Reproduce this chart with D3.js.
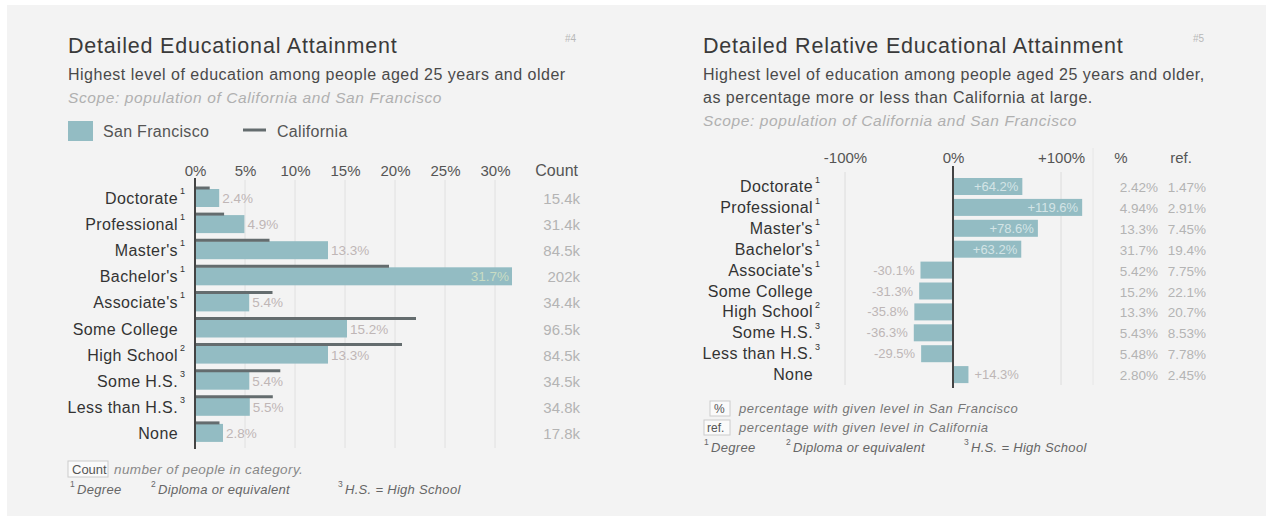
<!DOCTYPE html>
<html><head><meta charset="utf-8">
<script src="https://cdn.jsdelivr.net/npm/d3@7"></script>
<style>
html,body{margin:0;padding:0;background:#fff;}
svg text{font-family:"Liberation Sans",Arial,sans-serif;}
</style></head>
<body>
<svg id="c" width="1266" height="516"></svg>
<script>
const categories = ["Doctorate","Professional","Master's","Bachelor's","Associate's","Some College","High School","Some H.S.","Less than H.S.","None"];
const footMarks = ["1","1","1","1","1","","2","3","3",""];
const sfPct = [2.42,4.94,13.3,31.7,5.42,15.2,13.3,5.43,5.48,2.80];
const caPct = [1.47,2.91,7.45,19.4,7.75,22.1,20.7,8.53,7.78,2.45];
const sfLabels = ["2.4%","4.9%","13.3%","31.7%","5.4%","15.2%","13.3%","5.4%","5.5%","2.8%"];
const counts = ["15.4k","31.4k","84.5k","202k","34.4k","96.5k","84.5k","34.5k","34.8k","17.8k"];
const leftTicks = [0,5,10,15,20,25,30];
const relPct = [64.2,119.6,78.6,63.2,-30.1,-31.3,-35.8,-36.3,-29.5,14.3];
const relLabels = ["+64.2%","+119.6%","+78.6%","+63.2%","-30.1%","-31.3%","-35.8%","-36.3%","-29.5%","+14.3%"];
const pctCol = ["2.42%","4.94%","13.3%","31.7%","5.42%","15.2%","13.3%","5.43%","5.48%","2.80%"];
const refCol = ["1.47%","2.91%","7.45%","19.4%","7.75%","22.1%","20.7%","8.53%","7.78%","2.45%"];
const rightTicks = [-100,0,100];
const rightTickLabels = ["-100%","0%","+100%"];

const svg = d3.select("#c");
svg.append("rect").attr("x",7).attr("y",5).attr("width",1259).attr("height",511).attr("fill","#f3f3f3");

const BAR = "#93bcc3", CA = "#646c6e", DARK = "#333", LIGHT = "#b4b4b4";

function txt(g, x, y, s, size, opts={}) {
  const t = g.append("text").attr("x",x).attr("y",y).attr("font-size",size)
    .attr("fill",opts.fill||DARK).attr("text-anchor",opts.anchor||"start").text(s);
  if (opts.ls) t.attr("letter-spacing",opts.ls);
  if (opts.italic) t.attr("font-style","italic");
  return t;
}

// ---------- LEFT CHART ----------
const L = svg.append("g");
txt(L,68,53,"Detailed Educational Attainment",21.5,{fill:"#3a3a3a",ls:0.8});
txt(L,565,42,"#4",10,{fill:"#b8b8b8"});
txt(L,68,80,"Highest level of education among people aged 25 years and older",16,{fill:"#4a4a4a",ls:0.5});
txt(L,68,103,"Scope: population of California and San Francisco",15.5,{fill:"#b0b0b0",italic:true,ls:0.6});
L.append("rect").attr("x",68).attr("y",121).attr("width",25).attr("height",20).attr("fill",BAR);
txt(L,103,137,"San Francisco",16,{fill:"#555",ls:0.3});
L.append("line").attr("x1",243).attr("x2",266).attr("y1",130).attr("y2",130).attr("stroke",CA).attr("stroke-width",3);
txt(L,277,137,"California",16,{fill:"#555",ls:0.3});

const xL = d3.scaleLinear().domain([0,30]).range([195,495]);
const yL = d3.scaleBand().domain(categories).range([186,186+26.1*10]).padding(0);

leftTicks.forEach(t=>{
  if(t>0) L.append("line").attr("x1",xL(t)).attr("x2",xL(t)).attr("y1",180).attr("y2",448).attr("stroke","#e0e0e0").attr("stroke-width",1);
});
const axL = d3.axisTop(xL).tickValues(leftTicks).tickFormat(d=>d+"%").tickSize(0).tickPadding(0);
const gAx = L.append("g").attr("transform","translate(0,176)").call(axL);
gAx.select(".domain").remove();
gAx.selectAll("text").attr("font-size",15).attr("fill","#555").attr("font-family","Liberation Sans, Arial, sans-serif").attr("dy",0);
txt(L,578,176,"Count",16,{fill:"#555",anchor:"end"});

categories.forEach((c,i)=>{
  const top = yL(c);
  L.append("rect").attr("x",xL(0)).attr("y",top+3).attr("width",xL(sfPct[i])-xL(0)).attr("height",18).attr("fill",BAR);
  L.append("line").attr("x1",xL(0)).attr("x2",xL(caPct[i])).attr("y1",top+2).attr("y2",top+2).attr("stroke",CA).attr("stroke-width",3);
  const inside = sfPct[i] > 28;
  txt(L, inside ? xL(sfPct[i])-3 : xL(sfPct[i])+3, top+17, sfLabels[i], 13.5,
      {anchor:inside?"end":"start", fill:inside?"#c9dcc4":"#bfb6b6"});
  txt(L,178,top+18,c,16,{anchor:"end",ls:0.4});
  txt(L,180,top+8,footMarks[i],9);
  txt(L,580,top+18,counts[i],15,{anchor:"end",fill:LIGHT});
});
L.append("line").attr("x1",195).attr("x2",195).attr("y1",178).attr("y2",449).attr("stroke","#444").attr("stroke-width",2);

// footnotes left
L.append("rect").attr("x",68).attr("y",461).attr("width",40).attr("height",16).attr("fill","#fafafa").attr("stroke","#ccc");
txt(L,72,474,"Count",13,{fill:"#555"});
txt(L,114,474,"number of people in category.",13.5,{fill:"#888",italic:true,ls:0.4});
const fnL = [["1","Degree",70],["2","Diploma or equivalent",151],["3","H.S. = High School",338]];
fnL.forEach(f=>{
  txt(L,f[2],487,f[0],8.5,{fill:"#666"});
  txt(L,f[2]+7,494,f[1],13,{fill:"#666",italic:true,ls:0.3});
});

// ---------- RIGHT CHART ----------
const R = svg.append("g");
txt(R,703,53,"Detailed Relative Educational Attainment",21.5,{fill:"#3a3a3a",ls:0.8});
txt(R,1193,42,"#5",10,{fill:"#b8b8b8"});
txt(R,703,80,"Highest level of education among people aged 25 years and older,",16,{fill:"#4a4a4a",ls:0.5});
txt(R,703,103,"as percentage more or less than California at large.",16,{fill:"#4a4a4a",ls:0.5});
txt(R,703,126,"Scope: population of California and San Francisco",15.5,{fill:"#b0b0b0",italic:true,ls:0.6});

const xR = d3.scaleLinear().domain([-100,100]).range([845,1061]);
const yR = d3.scaleBand().domain(categories).range([176,176+20.9*10]).padding(0);

[-100,100].forEach(t=>{
  R.append("line").attr("x1",xR(t)).attr("x2",xR(t)).attr("y1",172).attr("y2",385).attr("stroke","#dcdcdc");
});
R.append("line").attr("x1",1093).attr("x2",1093).attr("y1",148).attr("y2",385).attr("stroke","#e6e6e6");
const axR = d3.axisTop(xR).tickValues(rightTicks).tickFormat((d,i)=>rightTickLabels[i]).tickSize(0).tickPadding(0);
const gAxR = R.append("g").attr("transform","translate(0,163)").call(axR);
gAxR.select(".domain").remove();
gAxR.selectAll("text").attr("font-size",15).attr("fill","#555").attr("font-family","Liberation Sans, Arial, sans-serif").attr("dy",0);
txt(R,1121,163,"%",15,{fill:"#555",anchor:"middle"});
txt(R,1181,163,"ref.",15,{fill:"#555",anchor:"middle"});

categories.forEach((c,i)=>{
  const top = yR(c);
  const v = relPct[i];
  const x0 = Math.min(xR(0),xR(v)), w = Math.abs(xR(v)-xR(0));
  R.append("rect").attr("x",x0).attr("y",top+2).attr("width",w).attr("height",17).attr("fill",BAR);
  let lx, anchor, fill;
  if (w > 50) { lx = xR(v) + (v>0?-4:4); anchor = v>0?"end":"start"; fill = "#d3e4e6"; }
  else { lx = xR(v) + (v>0?6:-6); anchor = v>0?"start":"end"; fill = "#bdb6b6"; }
  txt(R,lx,top+15,relLabels[i],13,{anchor:anchor,fill:fill});
  txt(R,813,top+16,c,16,{anchor:"end",ls:0.4});
  txt(R,815,top+7,footMarks[i],9);
  txt(R,1158,top+16,pctCol[i],13.5,{anchor:"end",fill:LIGHT});
  txt(R,1206,top+16,refCol[i],13.5,{anchor:"end",fill:LIGHT});
});
R.append("line").attr("x1",xR(0)).attr("x2",xR(0)).attr("y1",166).attr("y2",388).attr("stroke","#444").attr("stroke-width",2);

// footnotes right
R.append("rect").attr("x",710).attr("y",401).attr("width",20).attr("height",15).attr("fill","#fafafa").attr("stroke","#ccc");
txt(R,714,413,"%",12,{fill:"#555"});
txt(R,739,413,"percentage with given level in San Francisco",13,{fill:"#777",italic:true,ls:0.5});
R.append("rect").attr("x",704).attr("y",420).attr("width",26).attr("height",15).attr("fill","#fafafa").attr("stroke","#ccc");
txt(R,707,432,"ref.",12,{fill:"#555"});
txt(R,739,432,"percentage with given level in California",13,{fill:"#777",italic:true,ls:0.5});
const fnR = [["1","Degree",704],["2","Diploma or equivalent",786],["3","H.S. = High School",964]];
fnR.forEach(f=>{
  txt(R,f[2],445,f[0],8.5,{fill:"#666"});
  txt(R,f[2]+7,452,f[1],13,{fill:"#666",italic:true,ls:0.3});
});
</script>
</body></html>
